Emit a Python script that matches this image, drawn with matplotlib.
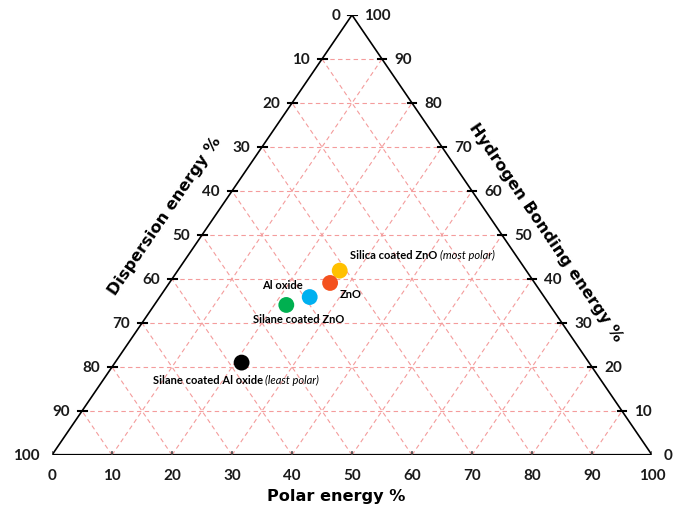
import matplotlib.pyplot as plt
import numpy as np

# surface energy components (%)
samples = ["Silica coated ZnO", "ZnO", "Al oxide", "Silane coated ZnO", "Silane coated Al oxide"]
polar = [27.0, 26.8, 25.0, 22.0, 21.1]
hbond = [41.9, 39.1, 35.9, 34.1, 21.0]
dispersion = [100 - p - h for p, h in zip(polar, hbond)]
colors = ["#FFC000", "#F4511E", "#00B0F0", "#00B050", "#000000"]
ticks = list(range(0, 101, 10))

plt.rcParams['font.family'] = ['Lato', 'DejaVu Sans']

W, H = 673, 505
fig = plt.figure(figsize=(W / 100, H / 100), dpi=100)
# triangle spans pixels x 52..652, y 15..455
ax = fig.add_axes([52 / W, (H - 455) / H, 600 / W, 440 / H])
ax.set_xlim(0, 1)
ax.set_ylim(0, 1)
ax.axis('off')

PX = 1 / 600.0   # one pixel in x units
PY = 1 / 440.0   # one pixel in y units


def tern(p, h):
    # polar -> bottom right vertex, hbond -> top vertex, dispersion -> bottom left
    p = np.asarray(p, dtype=float) / 100
    h = np.asarray(h, dtype=float) / 100
    return p + h / 2, h


# grid lines
gkw = dict(color='#F49C9C', lw=0.8, ls=(0, (4, 3)), zorder=1)
for v in ticks[1:-1]:
    # constant hbond
    x, y = tern([0, 100 - v], [v, v])
    ax.plot(x, y, **gkw)
    # constant polar
    x, y = tern([v, v], [0, 100 - v])
    ax.plot(x, y, **gkw)
    # constant dispersion
    x, y = tern([100 - v, 0], [0, 100 - v])
    ax.plot(x, y, **gkw)

# triangle outline
x, y = tern([0, 100, 0, 0], [0, 0, 100, 0])
ax.plot(x[:3], y[:3], color='black', lw=1.2, zorder=2)
ax.plot([x[2], x[0]], [y[2], y[0]], color='black', lw=1.2, zorder=2)
ax.plot([0, 1], [0, 0], color='black', lw=1.6, zorder=2)

tfont = dict(fontsize=11, fontweight='bold', color='#1a1a1a')

# left axis: dispersion, 0 at top, 100 at bottom-left
for v in ticks:
    hx, hy = tern(0, 100 - v)
    ax.plot([hx - 4 * PX, hx + 5 * PX], [hy, hy], color='black', lw=1.5, zorder=3)
    ax.text(hx - 12 * PX, hy - 1 * PY, str(v), ha='right', va='center', **tfont)

# right axis: hydrogen bonding, 100 at top, 0 at bottom-right
for v in ticks:
    hx, hy = tern(100 - v, v)
    ax.plot([hx - 4 * PX, hx + 4 * PX], [hy, hy], color='black', lw=1.5, zorder=3)
    ax.text(hx + 12 * PX, hy - 1 * PY, str(v), ha='left', va='center', **tfont)

# bottom axis: polar
for v in ticks:
    bx, by = tern(v, 0)
    ax.plot([bx, bx], [by + 3 * PY, by - 5 * PY], color='#444444', lw=1.2, zorder=3)
    ax.text(bx, by - 21 * PY, str(v), ha='center', va='center', **tfont)

# axis titles
ang = np.degrees(np.arctan2(440, 300))
title_font = dict(fontsize=11.6, fontweight='bold', family='DejaVu Sans')
ax.text((165 - 52) * PX, (455 - 216) * PY, 'Dispersion energy %', rotation=ang,
        ha='center', va='center', rotation_mode='anchor', **title_font)
ax.text((546 - 52) * PX, (455 - 232) * PY, 'Hydrogen Bonding energy %', rotation=-ang,
        ha='center', va='center', rotation_mode='anchor', **title_font)
ax.text((336 - 52) * PX, -42 * PY, 'Polar energy %', ha='center', va='center', **title_font)

# data points
px, py = tern(polar, hbond)
ax.scatter(px, py, s=130, c=colors, zorder=5, linewidths=0, clip_on=False)

lfont = dict(fontsize=8, fontweight='bold', textcoords='offset pixels')
# label offsets in pixels relative to each point
a = ax.annotate(samples[0] + ' ', (px[0], py[0]), xytext=(10, 15), ha='left', va='center', **lfont)
ax.annotate('(most polar)', xy=(1, 0.5), xycoords=a, ha='left', va='center',
            fontsize=8, fontstyle='italic')
ax.annotate(samples[1], (px[1], py[1]), xytext=(10, -12), ha='left', va='center', **lfont)
ax.annotate(samples[2], (px[2], py[2]), xytext=(-7, 12), ha='right', va='center', **lfont)
ax.annotate(samples[3], (px[3], py[3]), xytext=(12, -15), ha='center', va='center', **lfont)
b = ax.annotate(samples[4] + ' ', (px[4], py[4]), xytext=(-89, -18), ha='left', va='center', **lfont)
ax.annotate('(least polar)', xy=(1, 0.5), xycoords=b, ha='left', va='center',
            fontsize=8, fontstyle='italic')

fig.savefig('out.png', dpi=100)
